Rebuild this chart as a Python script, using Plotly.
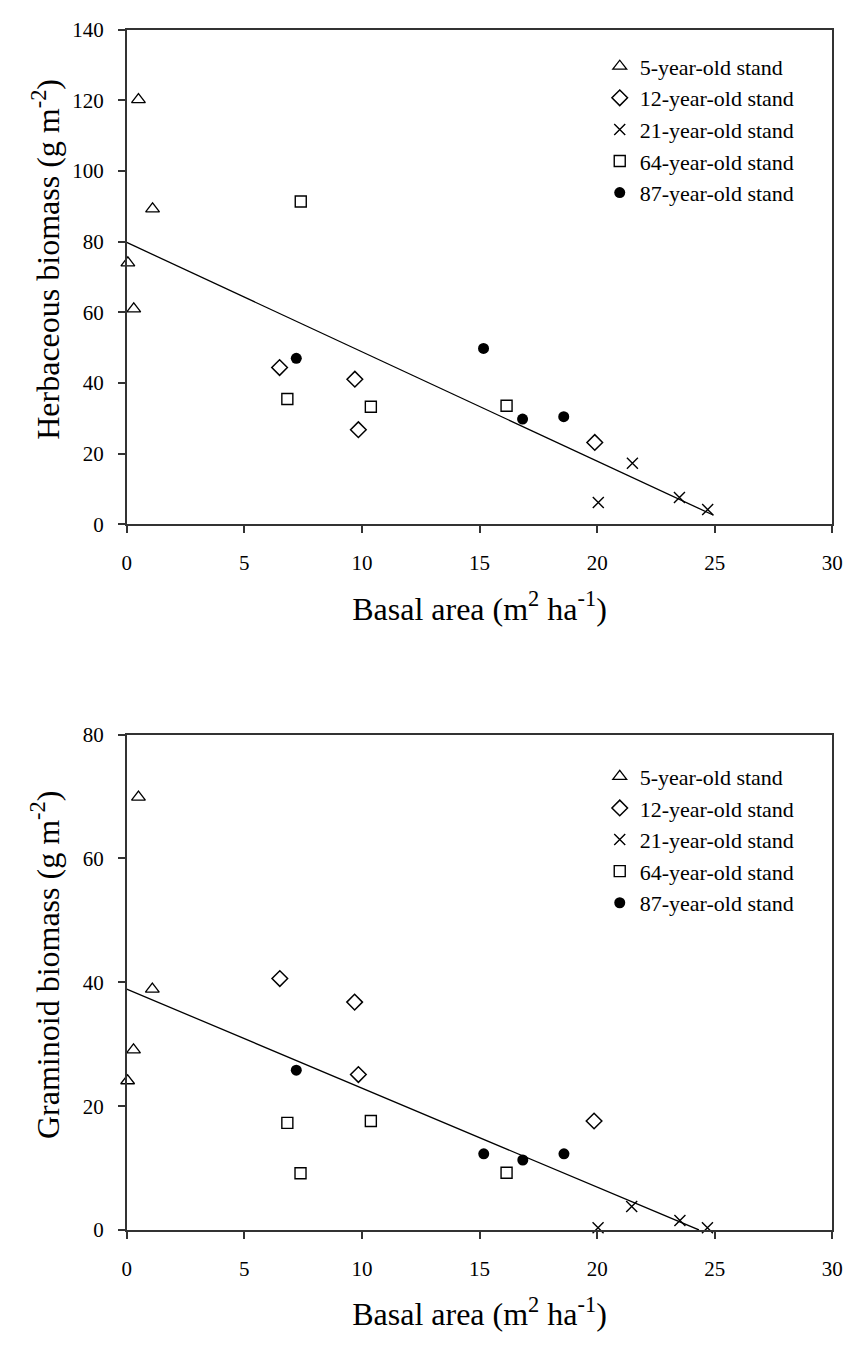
import plotly.graph_objects as go

# ---------------- data ----------------
series_names = ["5-year-old stand", "12-year-old stand", "21-year-old stand",
                "64-year-old stand", "87-year-old stand"]

# Herbaceous biomass (top panel)
herb_x_5 = [0.5, 1.1, 0.05, 0.3]
herb_y_5 = [120.2, 89.3, 74.0, 61.0]
herb_x_12 = [6.5, 9.7, 9.85, 19.9]
herb_y_12 = [44.4, 41.1, 26.8, 23.2]
herb_x_21 = [21.5, 20.05, 23.5, 24.7]
herb_y_21 = [17.3, 6.2, 7.6, 4.2]
herb_x_64 = [7.4, 6.83, 10.38, 16.15]
herb_y_64 = [91.4, 35.5, 33.3, 33.6]
herb_x_87 = [7.21, 15.17, 16.83, 18.58]
herb_y_87 = [47.0, 49.8, 29.8, 30.5]
herb_fit_x = [0.0, 24.95]
herb_fit_y = [79.8, 2.6]

# Graminoid biomass (bottom panel)
gram_x_5 = [0.5, 1.09, 0.29, 0.04]
gram_y_5 = [69.9, 38.9, 29.1, 24.1]
gram_x_12 = [6.51, 9.69, 9.85, 19.87]
gram_y_12 = [40.6, 36.8, 25.1, 17.6]
gram_x_21 = [21.47, 20.04, 23.52, 24.69]
gram_y_21 = [3.8, 0.37, 1.53, 0.37]
gram_x_64 = [6.83, 7.39, 10.38, 16.15]
gram_y_64 = [17.3, 9.15, 17.6, 9.25]
gram_x_87 = [7.21, 15.18, 16.84, 18.59]
gram_y_87 = [25.8, 12.3, 11.3, 12.3]
gram_fit_x = [0.0, 24.33]
gram_fit_y = [38.9, 0.0]

x_ticks = [0, 5, 10, 15, 20, 25, 30]
herb_y_ticks = [0, 20, 40, 60, 80, 100, 120, 140]
gram_y_ticks = [0, 20, 40, 60, 80]

x_title = "Basal area (m<sup>2</sup> ha<sup>-1</sup>)"
herb_title = "Herbaceous biomass (g m<sup>-2</sup>)"
gram_title = "Graminoid biomass (g m<sup>-2</sup>)"

# ---------------- styling ----------------
FONT = "Liberation Serif"
styles = [
    dict(symbol="triangle-up-open", size=12, color="black", line=dict(width=1.3, color="black")),
    dict(symbol="diamond-open", size=12, color="black", line=dict(width=1.5, color="black")),
    dict(symbol="x-thin-open", size=11, color="black", line=dict(width=1.4, color="black")),
    dict(symbol="square-open", size=11, color="black", line=dict(width=1.4, color="black")),
    dict(symbol="circle", size=11, color="black", line=dict(width=0, color="black")),
]

fig = go.Figure()

panels = [
    ("x", "y", "legend",
     [(herb_x_5, herb_y_5), (herb_x_12, herb_y_12), (herb_x_21, herb_y_21),
      (herb_x_64, herb_y_64), (herb_x_87, herb_y_87)], herb_fit_x, herb_fit_y),
    ("x2", "y2", "legend2",
     [(gram_x_5, gram_y_5), (gram_x_12, gram_y_12), (gram_x_21, gram_y_21),
      (gram_x_64, gram_y_64), (gram_x_87, gram_y_87)], gram_fit_x, gram_fit_y),
]

for xa, ya, lg, data, fx, fy in panels:
    fig.add_trace(go.Scatter(x=fx, y=fy, mode="lines", xaxis=xa, yaxis=ya,
                             line=dict(color="black", width=1.3),
                             showlegend=False, hoverinfo="skip"))
    for i, ((xs, ys), name) in enumerate(zip(data, series_names)):
        fig.add_trace(go.Scatter(x=xs, y=ys, mode="markers", name=name,
                                 xaxis=xa, yaxis=ya, legend=lg,
                                 marker=styles[i], cliponaxis=False))

axis_common = dict(
    showgrid=False, zeroline=False, showline=True, mirror=True,
    linecolor="#333333", linewidth=1.5, ticks="outside", ticklen=7,
    tickwidth=1.5, tickcolor="#333333",
    tickfont=dict(family=FONT, size=21, color="black"),
)

W, H = 861, 1351


def px_x(p):
    return p / W


def px_y(p):
    return (H - p) / H


xdom = [px_x(124), px_x(843)]
top_dom = [px_y(521.7), px_y(18)]
bot_dom = [px_y(1240), px_y(735.7)]

TITLE_FONT = dict(family=FONT, size=32, color="black")
LEG_FONT = dict(family=FONT, size=22, color="black")
xtitle = dict(text=x_title, font=TITLE_FONT, standoff=23)

fig.update_layout(
    width=W, height=H, margin=dict(l=0, r=0, t=0, b=0),
    paper_bgcolor="white", plot_bgcolor="white",
    font=dict(family=FONT, color="black"),
    xaxis=dict(domain=xdom, anchor="y", range=[0, 30], tickvals=x_ticks,
               ticklabelstandoff=12, title=xtitle, **axis_common),
    yaxis=dict(domain=top_dom, anchor="x", range=[0, 140], tickvals=herb_y_ticks,
               ticklabelstandoff=10, **axis_common),
    xaxis2=dict(domain=xdom, anchor="y2", range=[0, 30], tickvals=x_ticks,
                ticklabelstandoff=12, title=xtitle, **axis_common),
    yaxis2=dict(domain=bot_dom, anchor="x2", range=[0, 80], tickvals=gram_y_ticks,
                ticklabelstandoff=10, **axis_common),
    legend=dict(x=px_x(606), y=px_y(34), xanchor="left", yanchor="top",
                font=LEG_FONT, bgcolor="rgba(0,0,0,0)", traceorder="normal"),
    legend2=dict(x=px_x(606), y=px_y(757), xanchor="left", yanchor="top",
                 font=LEG_FONT, bgcolor="rgba(0,0,0,0)", traceorder="normal"),
    annotations=[
        dict(text=herb_title, xref="paper", yref="paper", x=px_x(41), y=px_y(252),
             xanchor="center", yanchor="middle", textangle=-90, showarrow=False,
             font=TITLE_FONT),
        dict(text=gram_title, xref="paper", yref="paper", x=px_x(41), y=px_y(970),
             xanchor="center", yanchor="middle", textangle=-90, showarrow=False,
             font=TITLE_FONT),
    ],
)

fig.write_html("out.html")
